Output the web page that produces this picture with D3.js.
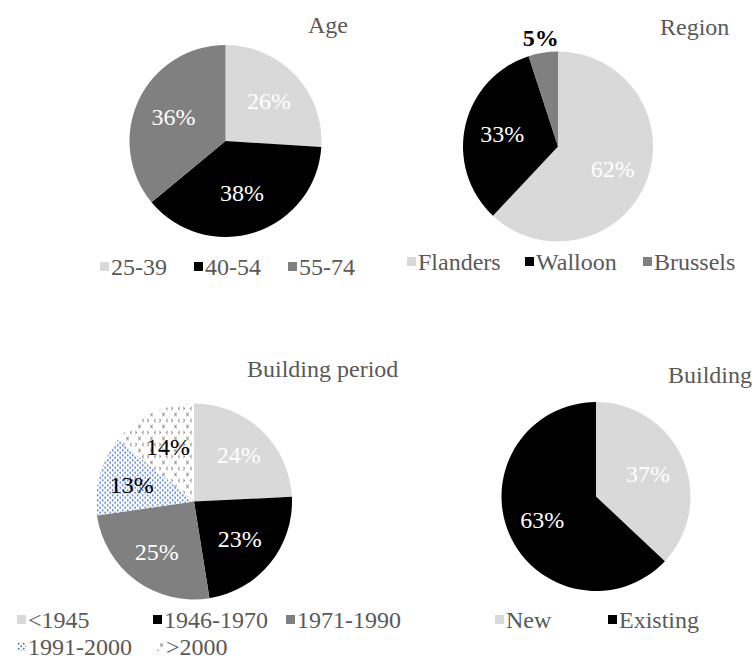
<!DOCTYPE html>
<html>
<head>
<meta charset="utf-8">
<script src="https://cdn.jsdelivr.net/npm/d3@7"></script>
<style>
  html, body { margin: 0; padding: 0; background: #fff; }
  svg { display: block; }
  text { font-family: "Liberation Serif", "Times New Roman", serif; }
</style>
</head>
<body>
<svg id="chart" width="754" height="659"></svg>
<script>
// ── Data ────────────────────────────────────────────────────────────────
const ageLabels = ['25-39', '40-54', '55-74'];
const ageValues = [26, 38, 36];

const regionLabels = ['Flanders', 'Walloon', 'Brussels'];
const regionValues = [62, 33, 5];

const periodLabels = ['<1945', '1946-1970', '1971-1990', '1991-2000', '>2000'];
const periodValues = [24, 23, 25, 13, 14];

const buildingLabels = ['New', 'Existing'];
const buildingValues = [37, 63];

// ── Layout (positions only) ─────────────────────────────────────────────
const LIGHT = '#d9d9d9', BLACK = '#000000', GREY = '#808080', TXT = '#595959';

const charts = [
  { title: 'Age', labels: ageLabels, values: ageValues,
    cx: 225.5, cy: 141, r: 96, tx: 308, ty: 33,
    fills: [LIGHT, BLACK, GREY], labelCol: ['#fff', '#fff', '#fff'],
    lr: [0.62, 0.56, 0.6], bold: [],
    legend: [{ x: 100, y: 275 }, { x: 194, y: 275 }, { x: 288, y: 275 }] },
  { title: 'Region', labels: regionLabels, values: regionValues,
    cx: 558, cy: 146.5, r: 95, tx: 660, ty: 35,
    fills: [LIGHT, BLACK, GREY], labelCol: ['#fff', '#fff', '#000'],
    lr: [0.62, 0.6, 1.16], bold: [2],
    legend: [{ x: 407, y: 270 }, { x: 525, y: 270 }, { x: 643, y: 270 }] },
  { title: 'Building period', labels: periodLabels, values: periodValues,
    cx: 194, cy: 501.5, r: 98, tx: 247, ty: 377,
    fills: [LIGHT, BLACK, GREY, 'url(#dots)', 'url(#divot)'],
    labelCol: ['#fff', '#fff', '#fff', '#000', '#000'],
    lr: [0.66, 0.6, 0.64, 0.66, 0.62], bold: [],
    legend: [{ x: 17, y: 628 }, { x: 153, y: 628 }, { x: 286, y: 628 },
             { x: 17, y: 655 }, { x: 155, y: 655 }] },
  { title: 'Building', labels: buildingLabels, values: buildingValues,
    cx: 596, cy: 496.5, r: 94.5, tx: 668, ty: 383,
    fills: [LIGHT, BLACK], labelCol: ['#fff', '#fff'],
    lr: [0.6, 0.62], bold: [],
    legend: [{ x: 495, y: 628 }, { x: 608, y: 628 }] }
];

const svg = d3.select('#chart');

// ── Patterns ────────────────────────────────────────────────────────────
const defs = svg.append('defs');
const dots = defs.append('pattern').attr('id', 'dots')
  .attr('patternUnits', 'userSpaceOnUse').attr('width', 5).attr('height', 5);
dots.append('rect').attr('width', 5).attr('height', 5).attr('fill', '#fff');
dots.append('circle').attr('cx', 1.2).attr('cy', 1.2).attr('r', 0.95).attr('fill', '#4472c4');
dots.append('circle').attr('cx', 3.7).attr('cy', 3.7).attr('r', 0.95).attr('fill', '#4472c4');

const divot = defs.append('pattern').attr('id', 'divot')
  .attr('patternUnits', 'userSpaceOnUse').attr('width', 12).attr('height', 12);
divot.append('rect').attr('width', 12).attr('height', 12).attr('fill', '#fff');
divot.append('path').attr('d', 'M1,1.5 L3,3 L1,4.5 M10,1.5 L8,3 L10,4.5 M4,7.5 L6,9 L4,10.5 M7,7.5 L5,9 L7,10.5')
  .attr('fill', 'none').attr('stroke', '#7a7a7a').attr('stroke-width', 0.9);

// ── Pies ────────────────────────────────────────────────────────────────
const pie = d3.pie().sort(null).value(d => d);

charts.forEach(c => {
  const g = svg.append('g').attr('transform', `translate(${c.cx},${c.cy})`);
  const arcs = pie(c.values);
  const arc = d3.arc().innerRadius(0).outerRadius(c.r);

  g.selectAll('path.slice').data(arcs).join('path')
    .attr('class', 'slice')
    .attr('d', arc)
    .attr('fill', (d, i) => c.fills[i]);

  g.selectAll('text.lbl').data(arcs).join('text')
    .attr('class', 'lbl')
    .attr('transform', (d, i) => {
      const a = (d.startAngle + d.endAngle) / 2;
      const rr = c.r * c.lr[i];
      return `translate(${Math.sin(a) * rr},${-Math.cos(a) * rr})`;
    })
    .attr('text-anchor', 'middle')
    .attr('dy', '0.35em')
    .attr('font-size', 24)
    .attr('font-weight', (d, i) => c.bold.includes(i) ? 'bold' : 'normal')
    .attr('fill', (d, i) => c.labelCol[i])
    .text(d => d.data + '%');

  svg.append('text')
    .attr('x', c.tx).attr('y', c.ty)
    .attr('font-size', 24).attr('fill', TXT)
    .text(c.title);

  // legend
  c.labels.forEach((lab, i) => {
    const p = c.legend[i];
    svg.append('rect')
      .attr('x', p.x).attr('y', p.y - 13)
      .attr('width', 9).attr('height', 9)
      .attr('fill', c.fills[i]);
    svg.append('text')
      .attr('x', p.x + 11).attr('y', p.y)
      .attr('font-size', 24).attr('fill', TXT)
      .text(lab);
  });
});
</script>
</body>
</html>
